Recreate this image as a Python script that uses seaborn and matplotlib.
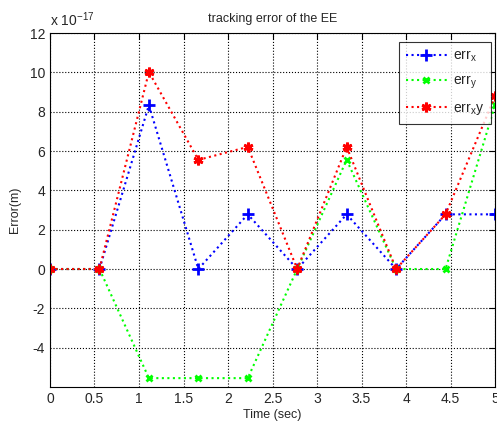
import numpy as np
import matplotlib
matplotlib.use('Agg')
import matplotlib.pyplot as plt
import seaborn as sns

# time samples (sec) and tracking errors (units of 1e-17 m)
time_sec = [0, 0.5556, 1.1111, 1.6667, 2.2222, 2.7778, 3.3333, 3.8889, 4.4444, 5.0]
err_x = [0, 0, 8.33, 0, 2.78, 0, 2.78, 0, 2.78, 2.78]
err_y = [0, 0, -5.55, -5.55, -5.55, 0, 5.55, 0, 0, 8.33]
err_xy = [0, 0, 10.02, 5.55, 6.21, 0, 6.21, 0, 2.78, 8.78]

sns.set_style('white')
plt.rcParams['font.family'] = ['Liberation Sans', 'DejaVu Sans']
plt.rcParams['mathtext.fontset'] = 'custom'
plt.rcParams['mathtext.rm'] = 'Liberation Sans'
plt.rcParams['mathtext.it'] = 'Liberation Sans'

fig = plt.figure(figsize=(4.97, 4.24), dpi=100)
ax = fig.add_axes([0.1006, 0.0873, 0.8954, 0.8347])

blue, green, red = (0, 0, 1), (0, 1, 0), (1, 0, 0)
sns.lineplot(x=time_sec, y=err_x, ax=ax, color=blue, linestyle=':', lw=1.5,
             marker='+', markersize=9, markeredgewidth=2, markeredgecolor=blue,
             label='err$_x$')
sns.lineplot(x=time_sec, y=err_y, ax=ax, color=green, linestyle=':', lw=1.5,
             marker='x', markersize=5, markeredgewidth=2, markeredgecolor=green,
             label='err$_y$')
sns.lineplot(x=time_sec, y=err_xy, ax=ax, color=red, linestyle=':', lw=1.5,
             marker='+', markersize=7, markeredgewidth=2, markeredgecolor=red,
             label='err$_x$y')
# MATLAB-style asterisk for the combined error
ax.lines[-1].set_marker((6, 2, 0))

ax.set_xlim(0, 5)
ax.set_ylim(-6, 12)
ax.set_xticks(np.arange(0, 5.01, 0.5))
ax.set_xticklabels(['0', '0.5', '1', '1.5', '2', '2.5', '3', '3.5', '4', '4.5', '5'])
ax.set_yticks(np.arange(-4, 12.01, 2))
ax.set_yticklabels([str(v) for v in range(-4, 13, 2)])
ax.tick_params(direction='in', top=True, right=True, labelsize=10, length=4, color='black')
ax.grid(True, color='black', linestyle=':', linewidth=0.8)
for s in ax.spines.values():
    s.set_color('black')
    s.set_linewidth(0.8)

ax.set_title('tracking error of the EE', fontsize=9, pad=8)
ax.set_xlabel('Time (sec)', fontsize=9, labelpad=2)
ax.set_ylabel('Error(m)', fontsize=9, labelpad=6)
ax.text(0.0, 1.012, r'x 10$^{-17}$', transform=ax.transAxes, fontsize=10, ha='left', va='bottom')

leg = ax.legend(loc='upper right', bbox_to_anchor=(0.991, 0.975), borderaxespad=0,
                fontsize=10, frameon=True, fancybox=False, edgecolor='black',
                handlelength=3, borderpad=0.5, labelspacing=0.7, handletextpad=0.4)
leg.get_frame().set_linewidth(0.8)

fig.savefig('out.png', dpi=100)
